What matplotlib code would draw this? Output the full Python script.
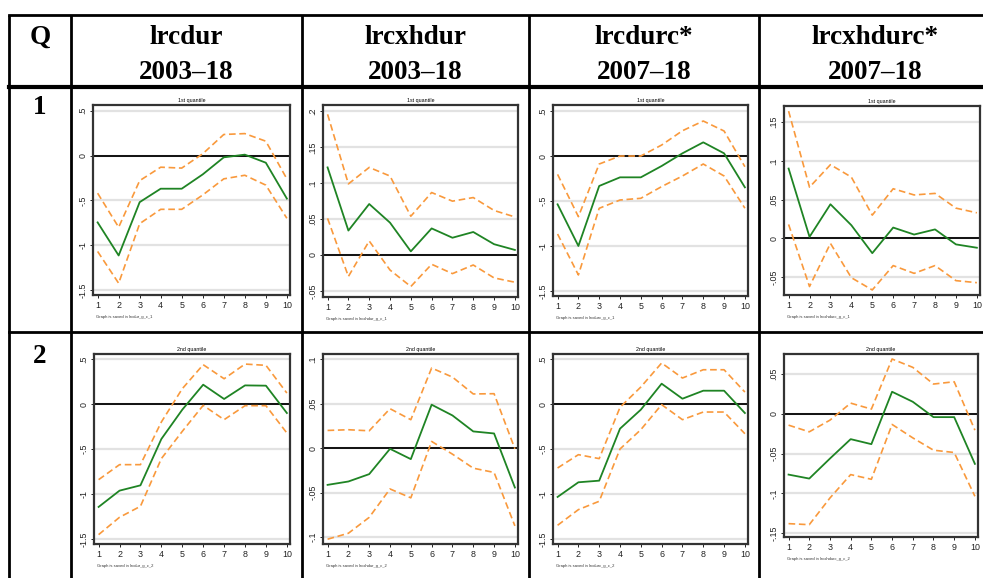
import matplotlib
matplotlib.use("Agg")
import matplotlib.pyplot as plt

# ---------------- data ----------------
steps = list(range(1, 11))
x_ticklabels = [str(s) for s in steps]

col_names = ["lrcdur", "lrcxhdur", "lrcdurc*", "lrcxhdurc*"]
col_periods = ["2003–18", "2003–18", "2007–18", "2007–18"]
row_labels = ["1", "2"]
panel_titles = ["1st quantile", "2nd quantile"]
file_names = ["lrcdur", "lrcxhdur", "lrcdurc", "lrcxhdurc"]

# Row 1 (1st quantile)
lrcdur_q1_irf = [-0.746, -1.115, -0.52, -0.37, -0.37, -0.21, -0.02, 0.01, -0.08, -0.48]
lrcdur_q1_hi = [-0.42, -0.80, -0.28, -0.13, -0.14, 0.02, 0.235, 0.245, 0.16, -0.26]
lrcdur_q1_lo = [-1.07, -1.425, -0.76, -0.60, -0.60, -0.44, -0.26, -0.22, -0.33, -0.70]

lrcxhdur_q1_irf = [0.122, 0.034, 0.071, 0.045, 0.005, 0.037, 0.024, 0.032, 0.015, 0.007]
lrcxhdur_q1_hi = [0.196, 0.099, 0.122, 0.110, 0.054, 0.087, 0.075, 0.080, 0.062, 0.053]
lrcxhdur_q1_lo = [0.051, -0.030, 0.0195, -0.021, -0.044, -0.013, -0.026, -0.014, -0.032, -0.038]

lrcdurc_q1_irf = [-0.537, -1.0, -0.333, -0.237, -0.237, -0.111, 0.03, 0.152, 0.03, -0.348]
lrcdurc_q1_hi = [-0.204, -0.674, -0.089, 0.0, 0.0, 0.122, 0.281, 0.389, 0.278, -0.119]
lrcdurc_q1_lo = [-0.867, -1.322, -0.581, -0.489, -0.47, -0.34, -0.222, -0.089, -0.222, -0.58]

lrcxhdurc_q1_irf = [0.090, 0.002, 0.044, 0.017, -0.019, 0.014, 0.005, 0.0116, -0.0077, -0.012]
lrcxhdurc_q1_hi = [0.164, 0.066, 0.095, 0.079, 0.030, 0.064, 0.056, 0.058, 0.039, 0.033]
lrcxhdurc_q1_lo = [0.018, -0.062, -0.0064, -0.0506, -0.0664, -0.035, -0.045, -0.035, -0.0544, -0.057]

# Row 2 (2nd quantile)
lrcdur_q2_irf = [-1.144, -0.963, -0.904, -0.389, -0.063, 0.215, 0.056, 0.207, 0.204, -0.10]
lrcdur_q2_hi = [-0.841, -0.674, -0.674, -0.20, 0.17, 0.437, 0.281, 0.444, 0.43, 0.122]
lrcdur_q2_lo = [-1.452, -1.259, -1.137, -0.607, -0.304, -0.015, -0.174, -0.0185, -0.0185, -0.322]

lrcxhdur_q2_irf = [-0.0414, -0.0376, -0.0293, -0.0008, -0.0124, 0.0489, 0.0368, 0.0188, 0.0165, -0.0444]
lrcxhdur_q2_hi = [0.0199, 0.0207, 0.0195, 0.0444, 0.032, 0.0902, 0.080, 0.061, 0.0613, -0.0008]
lrcxhdur_q2_lo = [-0.1026, -0.0959, -0.078, -0.046, -0.056, 0.0075, -0.0068, -0.0226, -0.0274, -0.0876]

lrcdurc_q2_irf = [-1.033, -0.870, -0.852, -0.274, -0.063, 0.226, 0.059, 0.148, 0.148, -0.10]
lrcdurc_q2_hi = [-0.711, -0.563, -0.607, -0.037, 0.189, 0.456, 0.289, 0.381, 0.381, 0.133]
lrcdurc_q2_lo = [-1.348, -1.174, -1.081, -0.50, -0.285, -0.007, -0.174, -0.089, -0.089, -0.33]

lrcxhdurc_q2_irf = [-0.0765, -0.0815, -0.0563, -0.0319, -0.0382, 0.0277, 0.0151, -0.0042, -0.0042, -0.063]
lrcxhdurc_q2_hi = [-0.0143, -0.0227, -0.008, 0.0134, 0.0059, 0.0689, 0.0584, 0.0374, 0.0403, -0.0206]
lrcxhdurc_q2_lo = [-0.1382, -0.1395, -0.1059, -0.0765, -0.0824, -0.0134, -0.0303, -0.0458, -0.0487, -0.1038]

# y ticks (values, labels) per panel
yt_big = [0.5, 0, -0.5, -1, -1.5]
yl_big = [".5", "0", "-.5", "-1", "-1.5"]
yt_q1x = [0.2, 0.15, 0.1, 0.05, 0, -0.05]
yl_q1x = [".2", ".15", ".1", ".05", "0", "-.05"]
yt_q1xc = [0.15, 0.1, 0.05, 0, -0.05]
yl_q1xc = [".15", ".1", ".05", "0", "-.05"]
yt_q2x = [0.1, 0.05, 0, -0.05, -0.1]
yl_q2x = [".1", ".05", "0", "-.05", "-.1"]
yt_q2xc = [0.05, 0, -0.05, -0.1, -0.15]
yl_q2xc = [".05", "0", "-.05", "-.1", "-.15"]

panels = [
    # row, col, irf, hi, lo, yticks, ylabels, ylim, frame(l,t,r,b) px
    (0, 0, lrcdur_q1_irf, lrcdur_q1_hi, lrcdur_q1_lo, yt_big, yl_big, (-1.556, 0.564), (93, 105, 290, 295)),
    (0, 1, lrcxhdur_q1_irf, lrcxhdur_q1_hi, lrcxhdur_q1_lo, yt_q1x, yl_q1x, (-0.0586, 0.209), (323, 105, 518, 297)),
    (0, 2, lrcdurc_q1_irf, lrcdurc_q1_hi, lrcdurc_q1_lo, yt_big, yl_big, (-1.556, 0.567), (553, 105, 748, 296)),
    (0, 3, lrcxhdurc_q1_irf, lrcxhdurc_q1_hi, lrcxhdurc_q1_lo, yt_q1xc, yl_q1xc, (-0.0729, 0.1706), (784, 106, 980, 295)),
    (1, 0, lrcdur_q2_irf, lrcdur_q2_hi, lrcdur_q2_lo, yt_big, yl_big, (-1.556, 0.556), (94, 354, 290, 544)),
    (1, 1, lrcxhdur_q2_irf, lrcxhdur_q2_hi, lrcxhdur_q2_lo, yt_q2x, yl_q2x, (-0.108, 0.106), (323, 354, 518, 544)),
    (1, 2, lrcdurc_q2_irf, lrcdurc_q2_hi, lrcdurc_q2_lo, yt_big, yl_big, (-1.556, 0.556), (553, 354, 748, 544)),
    (1, 3, lrcxhdurc_q2_irf, lrcxhdurc_q2_hi, lrcxhdurc_q2_lo, yt_q2xc, yl_q2xc, (-0.155, 0.0752), (784, 354, 978, 537)),
]

# ---------------- figure ----------------
W, H = 983, 578
DPI = 100
fig = plt.figure(figsize=(W / DPI, H / DPI), dpi=DPI)
fig.patch.set_facecolor("white")

bg = fig.add_axes([0, 0, 1, 1])
bg.set_xlim(0, W)
bg.set_ylim(H, 0)
bg.axis("off")

# table grid
vx = [9, 71, 302, 529, 759]
top_y, head_y, row_y = 15, 87, 332
lw_tab = 2.0
for xv in vx:
    bg.plot([xv, xv], [top_y, H + 5], color="black", lw=lw_tab, solid_capstyle="butt")
bg.plot([vx[0], W + 5], [top_y, top_y], color="black", lw=lw_tab)
bg.plot([vx[0], W + 5], [head_y, head_y], color="black", lw=3.0)
bg.plot([vx[0], W + 5], [row_y, row_y], color="black", lw=lw_tab)

serif = ["Liberation Serif", "DejaVu Serif"]
hfs = 19.5
bg.text((vx[0] + vx[1]) / 2, 44, "Q", ha="center", va="baseline", fontsize=hfs,
        fontweight="bold", family=serif)
col_centers = [(vx[1] + vx[2]) / 2, (vx[2] + vx[3]) / 2, (vx[3] + vx[4]) / 2, (vx[4] + 991) / 2]
for cx, name, per in zip(col_centers, col_names, col_periods):
    bg.text(cx, 44, name, ha="center", va="baseline", fontsize=hfs, fontweight="bold", family=serif)
    bg.text(cx, 79, per, ha="center", va="baseline", fontsize=hfs, fontweight="bold", family=serif)
for ry, lab in zip([114, 363], row_labels):
    bg.text((vx[0] + vx[1]) / 2, ry, lab, ha="center", va="baseline", fontsize=hfs,
            fontweight="bold", family=serif)

green = "#1f8424"
orange = "#f9993c"
sans = ["Liberation Sans", "DejaVu Sans"]

for (r, c, irf, hi, lo, yt, yl, ylim, fr) in panels:
    l, t, rr, b = fr
    ax = fig.add_axes([l / W, 1 - b / H, (rr - l) / W, (b - t) / H])
    ax.set_xlim(0.78, 10.15)
    ax.set_ylim(*ylim)
    for yv in yt:
        ax.axhline(yv, color="#e2e2e2", lw=1.6, zorder=1)
    ax.axhline(0, color="black", lw=1.3, zorder=2)
    ax.plot(steps, hi, color=orange, lw=1.2, dashes=(4, 2.2), zorder=3)
    ax.plot(steps, lo, color=orange, lw=1.2, dashes=(4, 2.2), zorder=3)
    ax.plot(steps, irf, color=green, lw=1.3, zorder=4)
    ax.set_xticks(steps)
    ax.set_xticklabels(x_ticklabels, fontsize=6.4, family=sans)
    ax.set_yticks(yt)
    ax.set_yticklabels(yl, fontsize=6.4, family=sans, rotation=90, va="center")
    ax.tick_params(axis="both", length=2.5, width=0.7, pad=1.5, colors="#222222")
    for sp in ax.spines.values():
        sp.set_color("#333333")
        sp.set_linewidth(1.6)
    ax.set_title(panel_titles[r], fontsize=3.8, pad=2, family=sans)
    bg.text(l + 3, b + 22, "Graph is saved in %s_g_c_%d" % (file_names[c], r + 1),
            fontsize=3.0, ha="left", va="center", family=sans, color="#333333")

fig.savefig("out.png", dpi=DPI, facecolor="white")
